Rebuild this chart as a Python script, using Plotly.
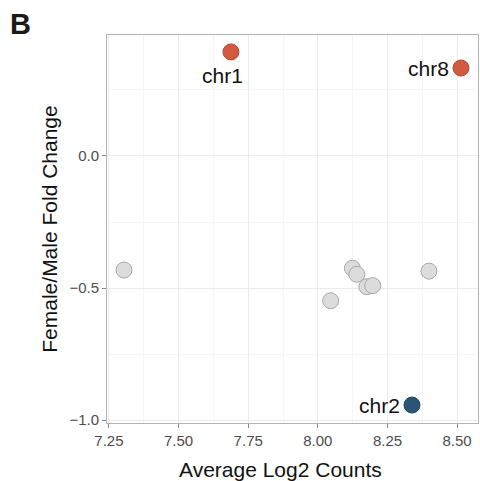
import plotly.graph_objects as go

# Per-chromosome summary: mean log2 counts vs female/male fold change
avg_log2 = [7.688, 8.514, 8.338, 7.304, 8.124, 8.140, 8.176, 8.197, 8.046, 8.399]
fold_change = [0.394, 0.333, -0.943, -0.432, -0.425, -0.448, -0.495, -0.491, -0.548, -0.436]
labels = ["chr1", "chr8", "chr2", "", "", "", "", "", "", ""]
groups = ["up", "up", "down", "ns", "ns", "ns", "ns", "ns", "ns", "ns"]

colors = {"up": "#d35a40", "down": "#2c5479", "ns": "#dcdcdc"}
outline = {"up": "#b04a35", "down": "#23425f", "ns": "#a8a8a8"}
# label placement relative to its point: (xanchor, xshift, yshift)
label_offset = {"chr1": ("center", -8, -24), "chr8": ("right", -10, 0), "chr2": ("right", -10, 0)}

font = "Liberation Sans, Arial, sans-serif"
fig = go.Figure()

# non-significant points first, highlighted ones on top
for g in ["ns", "up", "down"]:
    idx = [i for i, gg in enumerate(groups) if gg == g]
    fig.add_trace(go.Scatter(
        x=[avg_log2[i] for i in idx],
        y=[fold_change[i] for i in idx],
        mode="markers",
        marker=dict(size=16, color=colors[g], line=dict(color=outline[g], width=1), opacity=1),
        showlegend=False,
        cliponaxis=False,
    ))

annotations = []
for x, y, lab in zip(avg_log2, fold_change, labels):
    if not lab:
        continue
    anchor, dx, dy = label_offset[lab]
    annotations.append(dict(
        text=lab, x=x, y=y, xref="x", yref="y", showarrow=False,
        xanchor=anchor, yanchor="middle", xshift=dx, yshift=dy,
        font=dict(size=21, color="#111111", family=font),
    ))

# panel letter
annotations.append(dict(text="<b>B</b>", xref="paper", yref="paper",
                        x=-99 / 371, y=1 + 29 / 388,
                        xanchor="left", yanchor="top", showarrow=False,
                        font=dict(size=29, color="#1a1a1a", family=font)))
# x-axis title
annotations.append(dict(text="Average Log2 Counts", xref="paper", yref="paper",
                        x=(280 - 107) / 371, y=-46 / 388,
                        xanchor="center", yanchor="middle", showarrow=False,
                        font=dict(size=21, color="#111111", family=font)))

fig.update_layout(
    width=480, height=481,
    margin=dict(l=107, r=2, t=35, b=58),
    paper_bgcolor="white", plot_bgcolor="white",
    font=dict(family=font, color="#222222"),
    annotations=annotations,
)

fig.update_xaxes(
    range=[7.243, 8.575], tick0=7.25, dtick=0.25, tickformat=".2f",
    showgrid=True, gridcolor="#ebebeb", gridwidth=1,
    minor=dict(showgrid=True, gridcolor="#f5f5f5", dtick=0.125, tick0=7.25),
    ticks="outside", ticklen=4, tickcolor="#888888",
    tickfont=dict(size=15, color="#4d4d4d"),
    showline=True, linecolor="#b3b3b3", mirror=True, zeroline=False,
)
fig.update_yaxes(
    range=[-1.011, 0.458], tick0=0, dtick=0.5, tickformat=".1f",
    showgrid=True, gridcolor="#ebebeb", gridwidth=1,
    minor=dict(showgrid=True, gridcolor="#f5f5f5", dtick=0.25, tick0=0),
    ticks="outside", ticklen=4, tickcolor="#888888",
    tickfont=dict(size=15, color="#4d4d4d"),
    showline=True, linecolor="#b3b3b3", mirror=True, zeroline=False,
    title=dict(text="Female/Male Fold Change", font=dict(size=21, color="#111111"), standoff=6),
)

fig.write_html("out.html")
